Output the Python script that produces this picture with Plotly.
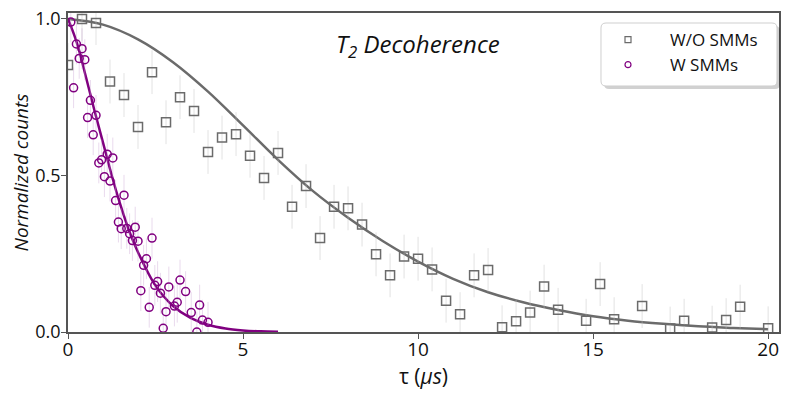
import plotly.graph_objects as go

# measured points, without SMMs (gray squares)
tau_wo = [0.0, 0.4, 0.8, 1.2, 1.6, 2.0, 2.4, 2.8, 3.2, 3.6, 4.0, 4.4, 4.8, 5.2, 5.6,
          6.0, 6.4, 6.8, 7.2, 7.6, 8.0, 8.4, 8.8, 9.2, 9.6, 10.0, 10.4, 10.8, 11.2,
          11.6, 12.0, 12.4, 12.8, 13.2, 13.6, 14.0, 14.8, 15.2, 15.6, 16.4, 17.2,
          17.6, 18.4, 18.8, 19.2, 20.0]
counts_wo = [0.853, 1.0, 0.987, 0.80, 0.757, 0.655, 0.83, 0.67, 0.75, 0.706, 0.575,
             0.621, 0.632, 0.563, 0.492, 0.572, 0.40, 0.466, 0.30, 0.40, 0.395, 0.343,
             0.248, 0.181, 0.241, 0.234, 0.20, 0.10, 0.057, 0.181, 0.198, 0.015,
             0.034, 0.062, 0.145, 0.071, 0.036, 0.153, 0.041, 0.083, 0.011, 0.036,
             0.014, 0.038, 0.081, 0.012]

# measured points, with SMMs (purple circles)
tau_w = [0.08, 0.16, 0.24, 0.32, 0.40, 0.48, 0.56, 0.64, 0.72, 0.80, 0.88, 0.96,
         1.04, 1.12, 1.20, 1.28, 1.36, 1.44, 1.52, 1.60, 1.68, 1.76, 1.84, 1.92,
         2.00, 2.08, 2.16, 2.24, 2.32, 2.40, 2.48, 2.56, 2.64, 2.72, 2.80, 2.88,
         3.04, 3.12, 3.20, 3.36, 3.52, 3.68, 3.76, 3.84, 4.00]
counts_w = [0.99, 0.78, 0.92, 0.874, 0.905, 0.87, 0.685, 0.74, 0.63, 0.692, 0.54,
            0.55, 0.496, 0.568, 0.482, 0.556, 0.42, 0.351, 0.33, 0.437, 0.331, 0.314,
            0.292, 0.335, 0.29, 0.132, 0.213, 0.234, 0.079, 0.30, 0.149, 0.161,
            0.124, 0.012, 0.065, 0.144, 0.083, 0.095, 0.166, 0.129, 0.062, 0.0,
            0.086, 0.038, 0.031]

# fitted decay curves
fit_tau_wo = [0, 1, 2, 3, 4, 5, 6, 7, 8, 9, 10, 11, 12, 13, 14, 15, 16, 17, 18, 19, 20]
fit_wo = [1.0, 0.982, 0.935, 0.862, 0.768, 0.66, 0.55, 0.45, 0.365, 0.29, 0.225,
          0.17, 0.127, 0.095, 0.07, 0.05, 0.036, 0.026, 0.018, 0.013, 0.009]
fit_tau_w = [0, 0.25, 0.5, 0.75, 1.0, 1.25, 1.5, 1.75, 2.0, 2.5, 3.0, 3.5, 4.0,
             4.5, 5.0, 5.5, 6.0]
fit_w = [1.0, 0.925, 0.82, 0.71, 0.605, 0.5, 0.405, 0.322, 0.255, 0.148, 0.083,
         0.045, 0.023, 0.011, 0.005, 0.002, 0.001]

GRAY = "#6b6b6b"
PURPLE = "#800080"
FONT = "Open Sans"

# the page body has an 8px margin, so the figure is drawn 8px in from the window corner
OFF = 8
WIN_W, WIN_H = 793, 397
PX0, PX1, PY0, PY1 = 68, 779, 13, 332   # plot area in window pixels
W, H = WIN_W - OFF, WIN_H - OFF


def px(x, y):
    # window pixel -> paper coords
    return (x - PX0) / (PX1 - PX0), (PY1 - y) / (PY1 - PY0)


def rounded(x0, y0, x1, y1, r):
    a = px(x0 + r, y0)
    pts = ["M %f,%f" % a,
           "L %f,%f" % px(x1 - r, y0),
           "Q %f,%f %f,%f" % (*px(x1, y0), *px(x1, y0 + r)),
           "L %f,%f" % px(x1, y1 - r),
           "Q %f,%f %f,%f" % (*px(x1, y1), *px(x1 - r, y1)),
           "L %f,%f" % px(x0 + r, y1),
           "Q %f,%f %f,%f" % (*px(x0, y1), *px(x0, y1 - r)),
           "L %f,%f" % px(x0, y0 + r),
           "Q %f,%f %f,%f Z" % (*px(x0, y0), *a)]
    return " ".join(pts)


fig = go.Figure()

fig.add_trace(go.Scatter(
    x=fit_tau_wo, y=fit_wo, mode="lines", line=dict(color=GRAY, width=2.5, shape="spline"),
    showlegend=False, hoverinfo="skip"))
fig.add_trace(go.Scatter(
    x=fit_tau_w, y=fit_w, mode="lines", line=dict(color=PURPLE, width=2.5, shape="spline"),
    showlegend=False, hoverinfo="skip"))

fig.add_trace(go.Scatter(
    x=tau_wo, y=counts_wo, mode="markers", name="W/O SMMs", showlegend=False,
    marker=dict(symbol="square-open", size=9, color=GRAY, line=dict(width=1.5, color=GRAY)),
    error_y=dict(type="constant", value=0.07, color="rgba(190,190,190,0.45)", thickness=1, width=0)))
fig.add_trace(go.Scatter(
    x=tau_w, y=counts_w, mode="markers", name="W SMMs", showlegend=False,
    marker=dict(symbol="circle-open", size=8, color=PURPLE, line=dict(width=1.5, color=PURPLE)),
    error_y=dict(type="constant", value=0.065, color="rgba(200,160,210,0.4)", thickness=1, width=0)))

# legend entries with the small symbols of the reference
fig.add_trace(go.Scatter(
    x=[None], y=[None], mode="markers", name="W/O SMMs",
    marker=dict(symbol="square-open", size=6, color=GRAY, line=dict(width=1.2, color=GRAY))))
fig.add_trace(go.Scatter(
    x=[None], y=[None], mode="markers", name="W SMMs",
    marker=dict(symbol="circle-open", size=6, color=PURPLE, line=dict(width=1.2, color=PURPLE))))

shapes = [
    dict(type="path", xref="paper", yref="paper", path=rounded(604, 26, 780, 89, 5),
         fillcolor="rgba(0,0,0,0.18)", line=dict(width=0), layer="above"),
    dict(type="path", xref="paper", yref="paper", path=rounded(601, 23, 777, 86, 5),
         fillcolor="white", line=dict(color="#cfcfcf", width=1), layer="above"),
]

fig.update_layout(
    width=W, height=H,
    margin=dict(l=PX0 - OFF, r=WIN_W - PX1, t=PY0 - OFF, b=WIN_H - PY1, autoexpand=False),
    paper_bgcolor="white", plot_bgcolor="white",
    font=dict(family=FONT, color="#111111", size=18),
    shapes=shapes,
    showlegend=True,
    legend=dict(x=px(586, 0)[0], y=px(0, 22)[1], xanchor="left", yanchor="top",
                bgcolor="rgba(0,0,0,0)", borderwidth=0,
                itemwidth=74, font=dict(size=17, family=FONT), tracegroupgap=0),
    annotations=[dict(text="<i>T<sub>2</sub> Decoherence</i>", xref="paper", yref="paper",
                      x=px(418, 0)[0], y=px(0, 45)[1], xanchor="center", yanchor="middle",
                      showarrow=False, font=dict(size=24, family=FONT))],
)

fig.update_xaxes(
    range=[0, 20.31], tickvals=[0, 5, 10, 15, 20], ticktext=["0", "5", "10", "15", "20"],
    showgrid=False, zeroline=False, showline=True, linecolor="#555555", linewidth=1.5,
    mirror=True, ticks="outside", ticklen=5, tickcolor="#555555", automargin=False,
    ticklabelstandoff=-6, ticklabeloverflow="allow",
    tickfont=dict(size=19), title=dict(text="τ (<i>μs</i>)", font=dict(size=21), standoff=1))
fig.update_yaxes(
    range=[0, 1.019], tickvals=[0, 0.5, 1.0], ticktext=["0.0", "0.5", "1.0"],
    showgrid=False, zeroline=False, showline=True, linecolor="#555555", linewidth=1.5,
    mirror=True, ticks="outside", ticklen=5, tickcolor="#555555", automargin=False,
    ticklabelstandoff=-3, ticklabeloverflow="allow",
    tickfont=dict(size=18), title=dict(text="<i>Normalized counts</i>", font=dict(size=19), standoff=3))

fig.write_html("out.html")
